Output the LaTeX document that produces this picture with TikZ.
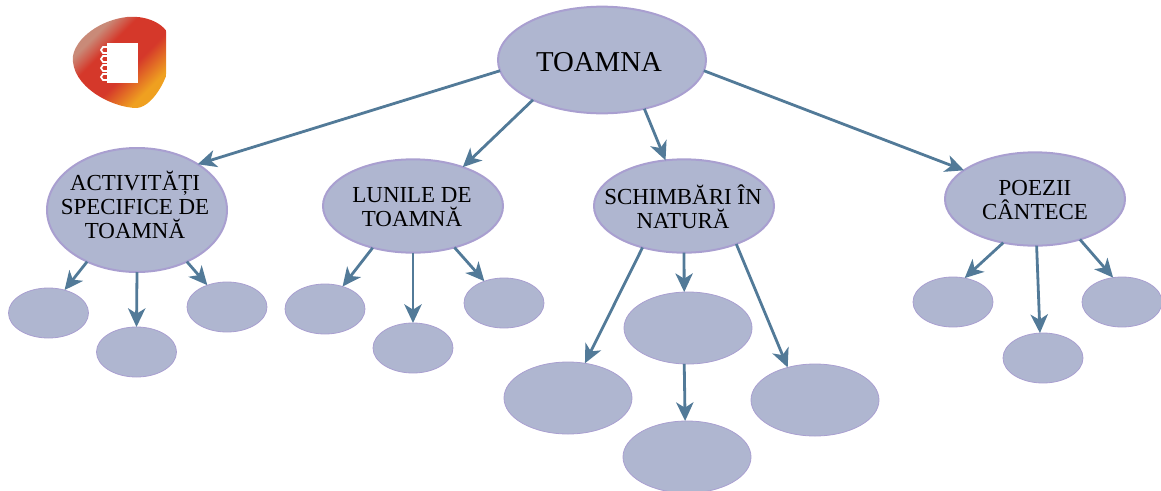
\documentclass[tikz,border=0pt]{standalone}
\usepackage{fontspec}
\setmainfont{Liberation Serif}
\usetikzlibrary{arrows.meta, shapes.geometric}

\definecolor{bubblefill}{HTML}{AFB6D0}
\definecolor{bubbleline}{HTML}{A99FD0}
\definecolor{arrowblue}{HTML}{527A98}
\definecolor{logopale}{HTML}{C98A78}
\definecolor{logored}{HTML}{D5382A}
\definecolor{logoorange}{HTML}{EFA020}
\pgfdeclareverticalshading{logoshade}{100bp}{
    color(0bp)=(logopale);
    color(31bp)=(logopale);
    color(40bp)=(logored);
    color(56bp)=(logored);
    color(70bp)=(logoorange);
    color(100bp)=(logoorange)}

\begin{document}
\begin{tikzpicture}[
        x=0.75pt,
        y=-0.75pt,
        bubble/.style={ellipse, fill=bubblefill, draw=bubbleline, inner sep=0pt, outer sep=0pt},
        topic/.style={bubble, line width=1.5pt, minimum width=135pt, minimum height=70pt},
        leaf/.style={bubble, line width=0.6pt, minimum width=60pt, minimum height=37.5pt},
        bigleaf/.style={bubble, line width=0.6pt, minimum width=96pt, minimum height=54pt},
        caption/.style={align=center, inner sep=0pt, font=\fontsize{17.2}{17.8}\selectfont},
        link/.style={-{Stealth[length=14pt, width=13pt, inset=4pt]}, draw=arrowblue, line width=2.1pt},
    ]
        \useasboundingbox (0,0) rectangle (1161,490);

        % logo
        \begin{scope}
            \clip (60,0) rectangle (166,120);
            \shade[shading=logoshade, shading angle=225]
                (73,56) .. controls (76,38) and (100,20) .. (127,17)
                .. controls (150,15) and (172,26) .. (172,48)
                .. controls (172,72) and (155,106) .. (137,108)
                .. controls (112,108) and (70,86) .. (73,56) -- cycle;
            \fill[white] (107,43) rectangle (138,83);
            \draw[white, line width=1.3pt, line cap=round]
                (110,47) -- (103,47) -- (101,50) -- (103,53) -- (110,53)
                (110,56) -- (103,56) -- (101,59) -- (103,62) -- (110,62)
                (110,65) -- (103,65) -- (101,68) -- (103,71) -- (110,71)
                (110,74) -- (103,74) -- (101,77) -- (103,80) -- (110,80);
        \end{scope}

        % main bubbles
        \node[bubble, line width=1.5pt, minimum width=156pt, minimum height=80pt] (toamna) at (602,60) {};
        \node[bubble, line width=1.5pt, minimum width=135pt, minimum height=93pt] (activitati) at (137,210) {};
        \node[topic] (lunile) at (413,206) {};
        \node[topic] (schimbari) at (684,206) {};
        \node[topic] (poezii) at (1035,199) {};

        % small bubbles
        \node[leaf] (activitati_a) at (48.5,313) {};
        \node[leaf] (activitati_b) at (136.5,352) {};
        \node[leaf] (activitati_c) at (227,307) {};
        \node[leaf] (lunile_a) at (325,309) {};
        \node[leaf] (lunile_b) at (413,348) {};
        \node[leaf] (lunile_c) at (504,303) {};
        \node[bigleaf] (schimbari_a) at (568,398) {};
        \node[bigleaf] (schimbari_b) at (688,328) {};
        \node[bigleaf] (schimbari_c) at (815,400) {};
        \node[bigleaf] (schimbari_d) at (687,457) {};
        \node[leaf] (poezii_a) at (953,302) {};
        \node[leaf] (poezii_b) at (1043,358) {};
        \node[leaf] (poezii_c) at (1122,302) {};

        % texts
        \node[caption, font=\fontsize{21.6}{24}\selectfont] (toamna_text) at (599,62) {TOAMNA};
        \node[caption] (activitati_text) at (135,205) {ACTIVITĂȚI\\SPECIFICE DE\\TOAMNĂ};
        \node[caption] (lunile_text) at (412,207) {LUNILE DE\\TOAMNĂ};
        \node[caption] (schimbari_text) at (683,207) {SCHIMBĂRI ÎN\\NATURĂ};
        \node[caption] (poezii_text) at (1035,200) {POEZII\\CÂNTECE};

        % arrows
        \draw[link] (toamna.186) -- (activitati.37.6);
        \draw[link] (toamna.210) -- (lunile.38);
        \draw[link] (toamna.-49.5) -- (schimbari.112);
        \draw[link] (toamna.-6.6) -- (poezii.158);

        \draw[link] (activitati.226.7) -- (activitati_a.55);
        \draw[link] (activitati.-90) -- (activitati_b.90);
        \draw[link] (activitati.-46.7) -- (activitati_c.132);

        \draw[link] (lunile.226) -- (lunile_a.52);
        \draw[link] (lunile.-90) -- (lunile_b.90);
        \draw[link] (lunile.-45) -- (lunile_c.132);

        \draw[link] (schimbari.225) -- (schimbari_a.64);
        \draw[link] (schimbari.-90) -- (schimbari_b.96);
        \draw[link] (schimbari.-36) -- (schimbari_c.130);
        \draw[link] (schimbari_b.-96) -- (schimbari_d.93);

        \draw[link] (poezii.234) -- (poezii_a.64);
        \draw[link] (poezii.-88) -- (poezii_b.97);
        \draw[link] (poezii.-42) -- (poezii_c.110);
    \end{tikzpicture}
\end{document}
